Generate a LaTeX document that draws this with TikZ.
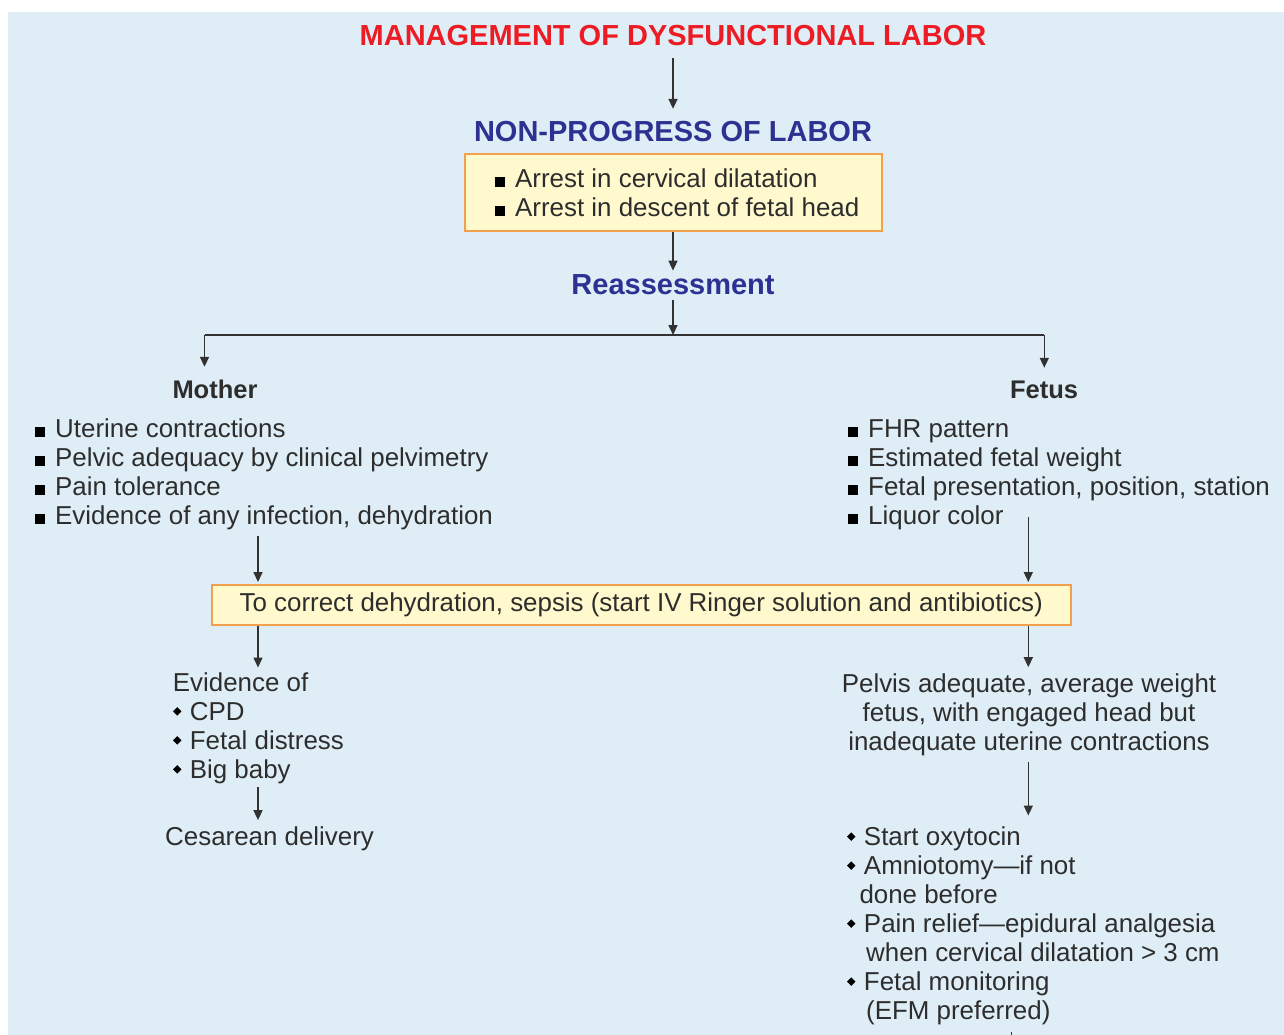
\documentclass[tikz,border=0pt]{standalone}
\usepackage{fontspec}
\setmainfont{Liberation Sans}
\usepackage{graphicx}
\usetikzlibrary{arrows.meta,calc}
\definecolor{bg}{RGB}{223,238,246}
\definecolor{ttlred}{RGB}{237,28,36}
\definecolor{hblue}{RGB}{46,49,146}
\definecolor{txt}{RGB}{45,45,45}
\definecolor{boxfill}{RGB}{255,249,205}
\definecolor{boxline}{RGB}{242,160,75}
\definecolor{arr}{RGB}{50,50,50}
\newcommand\sqb{\raisebox{0.8pt}{\color{black}\rule{9.5pt}{9.5pt}}\hspace{10.5pt}}
\newcommand\dmd{\raisebox{4.8pt}{\rotatebox{45}{\color{black}\rule{6pt}{6pt}}}\hspace{8.5pt}}
\newcommand\fst{\rule{0pt}{22pt}}
\tikzset{
 ttl/.style={font=\bfseries\fontsize{29}{34}\selectfont, text=ttlred, inner sep=0pt},
 hdr/.style={font=\bfseries\fontsize{29}{34}\selectfont, text=hblue, inner sep=0pt},
 sub/.style={font=\bfseries\fontsize{25.5}{29}\selectfont, text=txt, inner sep=0pt},
 body/.style={font=\fontsize{25.9}{29}\selectfont, text=txt, inner sep=0pt},
 lst/.style={body, align=left, anchor=north west},
 ybox/.style={draw=boxline, line width=2pt, fill=boxfill, inner sep=0pt},
 conn/.style={draw=arr, line width=1.5pt, -{Triangle[length=10pt,width=9pt]}},
 segline/.style={draw=arr, line width=1.5pt},
}
\begin{document}
\begin{tikzpicture}[x=1pt,y=-1pt]
\useasboundingbox (0,0) rectangle (1284,1035);
\fill[white] (0,0) rectangle (1284,1035);
\fill[bg] (8,12) rectangle (1284,1035);

\node[ttl, anchor=base] (title) at (673,46) {MANAGEMENT OF DYSFUNCTIONAL LABOR};
\node[hdr, anchor=base] (np) at (673,142) {NON-PROGRESS OF LABOR};
\node[ybox, minimum width=417pt, minimum height=77pt] (box1) at (673,192.5) {};
\node[lst] (box1txt) at (495,165.5) {\fst\sqb Arrest in cervical dilatation\\\sqb Arrest in descent of fetal head};
\node[hdr, anchor=base] (re) at (673,294) {Reassessment};
\coordinate (split) at (673,335);
\coordinate (brL) at (204.5,335);
\coordinate (brR) at (1044.3,335);
\node[sub, anchor=base] (mother) at (215,398.5) {Mother};
\node[sub, anchor=base] (fetus) at (1044,398.5) {Fetus};
\node[lst] (mlist) at (35,415.5) {\fst\sqb Uterine contractions\\\sqb Pelvic adequacy by clinical pelvimetry\\\sqb Pain tolerance\\\sqb Evidence of any infection, dehydration};
\node[lst] (flist) at (848,415.5) {\fst\sqb FHR pattern\\\sqb Estimated fetal weight\\\sqb Fetal presentation, position, station\\\sqb Liquor color};
\node[ybox, body, minimum width=859pt, minimum height=39.5pt] (box2) at (641.3,604.8) {To correct dehydration, sepsis (start IV Ringer solution and antibiotics)};
\node[lst] (evid) at (172.7,669.2) {\fst Evidence of\\\dmd CPD\\\dmd Fetal distress\\\dmd Big baby};
\node[body, anchor=base west] (ces) at (165,845.5) {Cesarean delivery};
\node[body, align=center, anchor=north] (pelv) at (1029,670.2) {\fst Pelvis adequate, average weight\\fetus, with engaged head but\\inadequate uterine contractions};
\node[lst] (act) at (846.8,823.5) {\fst\dmd Start oxytocin\\\dmd Amniotomy—if not\\\hspace{12.5pt}done before\\\dmd Pain relief—epidural analgesia\\\hspace{19.2pt}when cervical dilatation > 3 cm\\\dmd Fetal monitoring\\\hspace{19.2pt}(EFM preferred)};
\coordinate (xL) at (258,0);
\coordinate (xR) at (1028.3,0);
\coordinate (stubT) at (1011.7,1031.5);

\draw[conn] ($(title.south)+(0,12)$) -- ($(title.south |- np.north)+(0,-12.7)$);
\draw[conn] (box1.south) -- ($(box1.south |- re.north)+(0,-3.2)$);
\draw[conn] ($(re.south)+(0,6)$) -- (split);
\draw[segline] (brL) -- (brR);
\draw[conn] (brL) -- ($(brL |- mother.north)+(0,-13)$);
\draw[conn] (brR) -- ($(brR |- fetus.north)+(0,-13)$);
\draw[conn] ($(mlist.south -| xL)+(0,5.6)$) -- ($(box2.north -| xL)+(0,-2)$);
\draw[conn] ($(flist.south -| xR)+(0,-13.4)$) -- ($(box2.north -| xR)+(0,-2)$);
\draw[conn] (box2.south -| xL) -- ($(evid.north -| xL)+(0,-1.7)$);
\draw[conn] (box2.south -| xR) -- ($(pelv.north -| xR)+(0,-3)$);
\draw[conn] ($(evid.south -| xL)+(0,3)$) -- ($(ces.north -| xL)+(0,-6.4)$);
\draw[conn] ($(pelv.south -| xR)+(0,6.3)$) -- ($(act.north -| xR)+(0,-8)$);
\draw[segline] (stubT) -- ($(stubT)+(0,5)$);
\end{tikzpicture}
\end{document}
